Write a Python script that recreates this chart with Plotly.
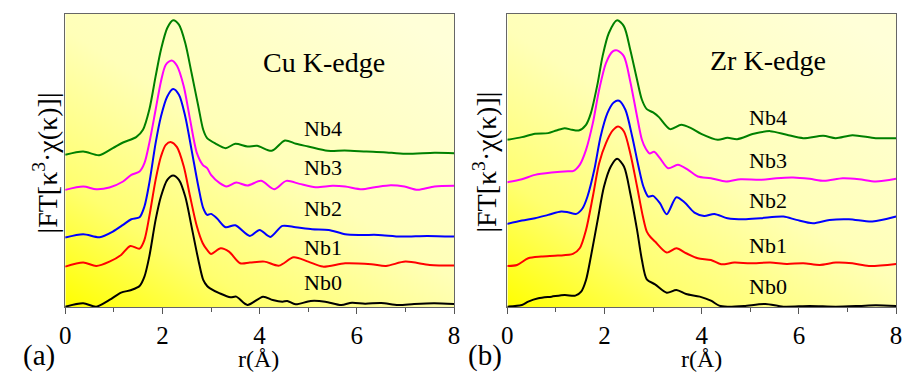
import base64
import plotly.graph_objects as go

# ---------------- data (FT magnitude, arbitrary units) ----------------
LABELS = ["Nb0", "Nb1", "Nb2", "Nb3", "Nb4"]
COLORS = ["#000000", "#ff0000", "#0000ff", "#ff00ff", "#008000"]

# Panel (a): Cu K-edge
CU_OFFSETS = [0.0, 12.1, 20.8, 35.1, 45.5]

CU_NB0_R = [0, 0.37, 0.64, 0.91, 1.15, 1.36, 1.53, 1.63, 1.73, 1.86, 1.97, 2.1, 2.22, 2.34, 2.47, 2.6, 2.74, 2.84, 2.92,
            2.98, 3.18, 3.4, 3.52, 3.75, 4.07, 4.27, 4.47, 4.57, 4.74, 5.05, 5.35, 5.68, 5.9, 6.17, 6.5, 6.85, 7.18, 7.59, 8.0]
CU_NB0_Y = [0.1, 1.1, 0.1, 2.1, 4.3, 5.1, 6.3, 9.1, 15.1, 26.1, 33.1, 38.1, 39.4, 38.1, 33.1, 24.1, 14.1, 8.1, 6.3,
            5.6, 4.1, 2.9, 3.1, 0.6, 3.1, 2.1, 1.6, 1.8, 0.8, 1.8, 1.6, 0.6, 1.3, 1.0, 1.2, 0.6, 0.9, 1.1, 0.9]

CU_NB1_R = [0, 0.37, 0.64, 0.91, 1.15, 1.34, 1.53, 1.63, 1.73, 1.86, 1.97, 2.07, 2.18, 2.3, 2.44, 2.57, 2.71, 2.83, 2.92,
            3.0, 3.2, 3.37, 3.6, 3.8, 4.1, 4.4, 4.7, 5.0, 5.3, 5.76, 6.3, 6.6, 7.0, 7.5, 8.0]
CU_NB1_Y = [0.0, 1.2, 0.2, 1.5, 3.5, 6.2, 5.4, 8.0, 15.0, 26.0, 33.0, 36.5, 37.3, 35.8, 30.0, 21.0, 12.0, 7.0, 5.0,
            3.8, 5.5, 4.5, 1.0, 1.2, 1.5, 0.3, 2.8, 1.5, 0.0, 1.0, 0.7, 0.2, 1.5, 0.5, 0.3]

CU_NB2_R = [0, 0.37, 0.71, 0.98, 1.19, 1.36, 1.53, 1.63, 1.73, 1.86, 1.97, 2.1, 2.22, 2.34, 2.47, 2.6, 2.74, 2.84, 2.92,
            3.0, 3.12, 3.3, 3.5, 3.8, 4.0, 4.22, 4.47, 4.74, 5.08, 5.42, 5.76, 6.1, 6.44, 6.91, 7.45, 8.0]
CU_NB2_Y = [0.0, 1.0, 0.1, 1.8, 3.8, 5.5, 6.1, 9.3, 16.3, 28.3, 36.3, 42.3, 44.5, 42.8, 36.3, 26.3, 15.3, 8.8, 6.8,
            7.1, 5.8, 3.1, 3.7, 0.5, 2.3, 0.2, 3.5, 3.1, 2.5, 2.3, 1.0, 0.8, 0.8, 0.3, 0.5, 0.3]

CU_NB3_R = [0, 0.37, 0.64, 0.91, 1.19, 1.36, 1.53, 1.63, 1.73, 1.86, 1.97, 2.07, 2.19, 2.3, 2.44, 2.57, 2.71, 2.83, 2.92,
            3.0, 3.18, 3.32, 3.52, 3.75, 4.03, 4.3, 4.55, 4.82, 5.15, 5.5, 5.76, 6.1, 6.37, 6.7, 6.98, 7.25, 7.6, 8.0]
CU_NB3_Y = [0.0, 1.0, 0.2, 0.7, 2.5, 4.5, 5.5, 8.0, 14.0, 24.0, 32.5, 37.5, 38.8, 37.2, 31.0, 21.0, 11.0, 7.5, 6.5,
            4.5, 2.0, 1.0, 2.2, 1.3, 2.7, 0.2, 2.7, 1.8, 0.8, 1.2, 1.0, 0.2, 0.8, 1.4, 1.0, 0.0, 1.0, 1.2]

CU_NB4_R = [0, 0.37, 0.7, 0.98, 1.19, 1.46, 1.6, 1.73, 1.86, 1.97, 2.1, 2.22, 2.34, 2.47, 2.6, 2.74, 2.84, 2.92,
            3.1, 3.3, 3.5, 3.75, 3.95, 4.25, 4.52, 4.75, 5.0, 5.4, 5.75, 6.2, 6.55, 7.0, 7.6, 8.0]
CU_NB4_Y = [0.1, 1.1, 0.0, 2.1, 3.8, 5.4, 7.6, 13.6, 23.6, 31.6, 38.1, 40.4, 39.1, 33.6, 24.6, 14.6, 7.6, 5.1,
            3.4, 2.1, 3.4, 2.6, 2.8, 1.3, 4.4, 3.4, 2.6, 1.3, 1.4, 1.1, 0.9, 0.4, 0.7, 0.6]

# Panel (b): Zr K-edge
ZR_OFFSETS = [0.0, 12.3, 24.9, 37.4, 49.9]

ZR_NB0_R = [0, 0.3, 0.43, 0.64, 0.91, 1.18, 1.4, 1.52, 1.62, 1.72, 1.86, 1.99, 2.13, 2.26, 2.4, 2.53, 2.67, 2.77, 2.87,
            3.04, 3.28, 3.48, 3.68, 3.96, 4.19, 4.36, 4.53, 4.87, 5.31, 5.68, 6.22, 6.76, 7.24, 7.58, 8.0]
ZR_NB0_Y = [0.1, 0.6, 1.6, 2.6, 3.1, 3.6, 3.4, 4.6, 8.1, 15.1, 26.1, 36.1, 42.1, 44.4, 42.1, 34.1, 23.1, 14.1, 8.3,
            6.8, 4.3, 5.1, 3.9, 3.1, 1.9, 0.4, 0.1, 0.3, 0.9, 0.1, 0.3, 0.1, 0.3, 0.5, 0.3]

ZR_NB1_R = [0, 0.2, 0.43, 0.7, 1.04, 1.35, 1.49, 1.62, 1.76, 1.89, 2.03, 2.17, 2.28, 2.4, 2.53, 2.67, 2.79, 2.87, 2.95,
            3.04, 3.28, 3.48, 3.68, 3.92, 4.19, 4.4, 4.67, 5.0, 5.41, 5.75, 6.09, 6.43, 6.76, 7.1, 7.44, 8.0]
ZR_NB1_Y = [0.0, 0.3, 2.3, 2.8, 3.1, 3.6, 5.3, 10.8, 20.8, 30.8, 36.8, 40.6, 41.8, 40.3, 33.8, 23.8, 14.8, 10.3, 8.6,
            7.3, 4.0, 5.3, 3.8, 2.3, 1.8, 0.5, 1.0, 0.8, 1.0, 0.6, 0.8, 0.3, 1.0, 0.8, 0.0, 0.6]

ZR_NB2_R = [0, 0.3, 0.57, 0.84, 1.11, 1.25, 1.42, 1.55, 1.65, 1.79, 1.92, 2.06, 2.19, 2.3, 2.43, 2.57, 2.7, 2.8, 2.9,
            3.0, 3.14, 3.28, 3.48, 3.65, 3.85, 4.05, 4.26, 4.53, 4.87, 5.21, 5.68, 5.95, 6.29, 6.63, 7.03, 7.51, 8.0]
ZR_NB2_Y = [0.0, 1.0, 1.7, 2.7, 3.7, 3.5, 3.0, 4.7, 8.2, 16.2, 26.2, 33.2, 36.4, 36.9, 34.2, 26.2, 17.2, 11.2, 8.2,
            8.4, 6.2, 2.9, 8.0, 6.4, 3.4, 2.4, 3.0, 1.7, 1.4, 1.7, 2.2, 1.2, 0.2, 1.2, 1.4, 0.7, 2.2]

ZR_NB3_R = [0, 0.3, 0.57, 0.91, 1.25, 1.35, 1.49, 1.62, 1.76, 1.89, 2.03, 2.17, 2.26, 2.4, 2.53, 2.67, 2.77, 2.85, 2.93,
            3.02, 3.14, 3.31, 3.51, 3.72, 3.92, 4.19, 4.5, 4.8, 5.21, 5.54, 5.88, 6.22, 6.52, 6.9, 7.24, 7.58, 8.0]
ZR_NB3_Y = [0.0, 0.9, 2.2, 2.9, 3.3, 3.3, 5.2, 9.7, 17.7, 27.7, 35.7, 39.2, 39.5, 37.7, 30.2, 19.7, 12.7, 10.0, 8.6,
            9.1, 7.2, 4.2, 5.2, 3.7, 1.7, 1.2, 0.2, 0.9, 0.7, 1.2, 1.4, 1.0, 0.4, 1.2, 0.9, 0.2, 1.0]

ZR_NB4_R = [0, 0.3, 0.57, 0.84, 1.01, 1.18, 1.33, 1.47, 1.62, 1.72, 1.86, 1.96, 2.09, 2.26, 2.4, 2.53, 2.67, 2.77, 2.87,
            3.0, 3.12, 3.35, 3.58, 3.78, 3.99, 4.33, 4.53, 4.73, 5.07, 5.41, 5.75, 6.09, 6.5, 6.76, 7.1, 7.58, 8.0]
ZR_NB4_Y = [0.2, 1.0, 2.0, 2.2, 3.0, 3.7, 3.2, 3.0, 4.7, 8.2, 17.2, 25.2, 32.2, 36.0, 34.2, 27.2, 18.2, 12.2, 9.4,
            8.4, 7.0, 3.4, 4.7, 3.7, 2.0, 0.2, 0.8, 0.4, 2.0, 2.8, 1.7, 0.7, 1.4, 0.7, 1.6, 0.7, 0.7]

CU_SERIES = [(CU_NB0_R, CU_NB0_Y), (CU_NB1_R, CU_NB1_Y), (CU_NB2_R, CU_NB2_Y), (CU_NB3_R, CU_NB3_Y), (CU_NB4_R, CU_NB4_Y)]
ZR_SERIES = [(ZR_NB0_R, ZR_NB0_Y), (ZR_NB1_R, ZR_NB1_Y), (ZR_NB2_R, ZR_NB2_Y), (ZR_NB3_R, ZR_NB3_Y), (ZR_NB4_R, ZR_NB4_Y)]

X_TICKS = [0, 2, 4, 6, 8]
Y_MAX = 87.8

# ---------------- figure ----------------
W, H = 909, 373
SERIF = "Liberation Serif"

def px(x):
    return x / W

def py(y):
    return 1 - y / H

fig = go.Figure()

for series, offsets, xa, ya in [(CU_SERIES, CU_OFFSETS, "x", "y"), (ZR_SERIES, ZR_OFFSETS, "x2", "y2")]:
    for (r, m), off, name, col in zip(series, offsets, LABELS, COLORS):
        fig.add_trace(go.Scatter(
            x=r, y=[v + off for v in m], mode="lines", name=name,
            line=dict(color=col, width=2, shape="spline", smoothing=0.8),
            xaxis=xa, yaxis=ya, showlegend=False, hoverinfo="skip"))

svg = ("<svg xmlns='http://www.w3.org/2000/svg' width='200' height='200' preserveAspectRatio='none' viewBox='0 0 200 200'>"
       "<defs><linearGradient id='g' x1='0' y1='1' x2='0.85' y2='0'>"
       "<stop offset='0' stop-color='#ffff00'/>"
       "<stop offset='0.25' stop-color='#ffff70'/>"
       "<stop offset='0.55' stop-color='#ffffb8'/>"
       "<stop offset='1' stop-color='#ffffd8'/>"
       "</linearGradient></defs><rect width='200' height='200' fill='url(#g)'/></svg>")
src = "data:image/svg+xml;base64," + base64.b64encode(svg.encode()).decode()

images = []
for xr, yr in [("x", "y"), ("x2", "y2")]:
    images.append(dict(source=src, xref=xr, yref=yr, x=0, y=Y_MAX, sizex=8, sizey=Y_MAX,
                       sizing="stretch", layer="below", xanchor="left", yanchor="top"))

ydom = [py(307), py(14)]
xaxis_common = dict(range=[0, 8], tickvals=X_TICKS, ticks="outside", ticklen=6, tickwidth=1.2, tickcolor="#555",
                    minor=dict(dtick=1, ticks="outside", ticklen=4, tickcolor="#555", tickwidth=1.2),
                    showline=True, mirror=True, linecolor="#666", linewidth=1.3, showgrid=False, zeroline=False,
                    tickfont=dict(family=SERIF, size=25, color="black"), fixedrange=True)
yaxis_common = dict(range=[0, Y_MAX], showticklabels=False, ticks="", showline=True, mirror=True,
                    linecolor="#666", linewidth=1.3, showgrid=False, zeroline=False, domain=ydom, fixedrange=True)

fig.update_layout(
    width=W, height=H, margin=dict(l=0, r=0, t=0, b=0),
    paper_bgcolor="white", plot_bgcolor="rgba(0,0,0,0)",
    font=dict(family=SERIF, color="black"),
    xaxis=dict(domain=[px(60), px(454)], anchor="y", **xaxis_common),
    yaxis=dict(anchor="x", **yaxis_common),
    xaxis2=dict(domain=[px(508), px(902)], anchor="y2", **xaxis_common),
    yaxis2=dict(anchor="x2", **yaxis_common),
    images=images,
)

ann = []
def text(x, y, s, size, angle=0):
    ann.append(dict(x=px(x), y=py(y), xref="paper", yref="paper", text=s, showarrow=False,
                    font=dict(family=SERIF, size=size, color="black"), textangle=angle,
                    xanchor="center", yanchor="middle"))

text(322, 62, "Cu K-edge", 28)
text(772, 60, "Zr K-edge", 28)
for lab, ya_, yb_ in zip(LABELS, [282, 247, 208, 167, 128], [286, 245, 200, 160, 117]):
    text(321, ya_, lab, 22)
    text(772, yb_, lab, 22)
text(256, 359, "r(Å)", 24)
text(705, 359, "r(Å)", 24)
text(33, 355, "(a)", 29)
text(485, 355, "(b)", 29)
ytitle = "|FT[κ<sup>3</sup>·χ(κ)]|"
text(40, 163, ytitle, 28, -90)
text(485, 162, ytitle, 28, -90)
fig.update_layout(annotations=ann)

fig.write_html("out.html")
